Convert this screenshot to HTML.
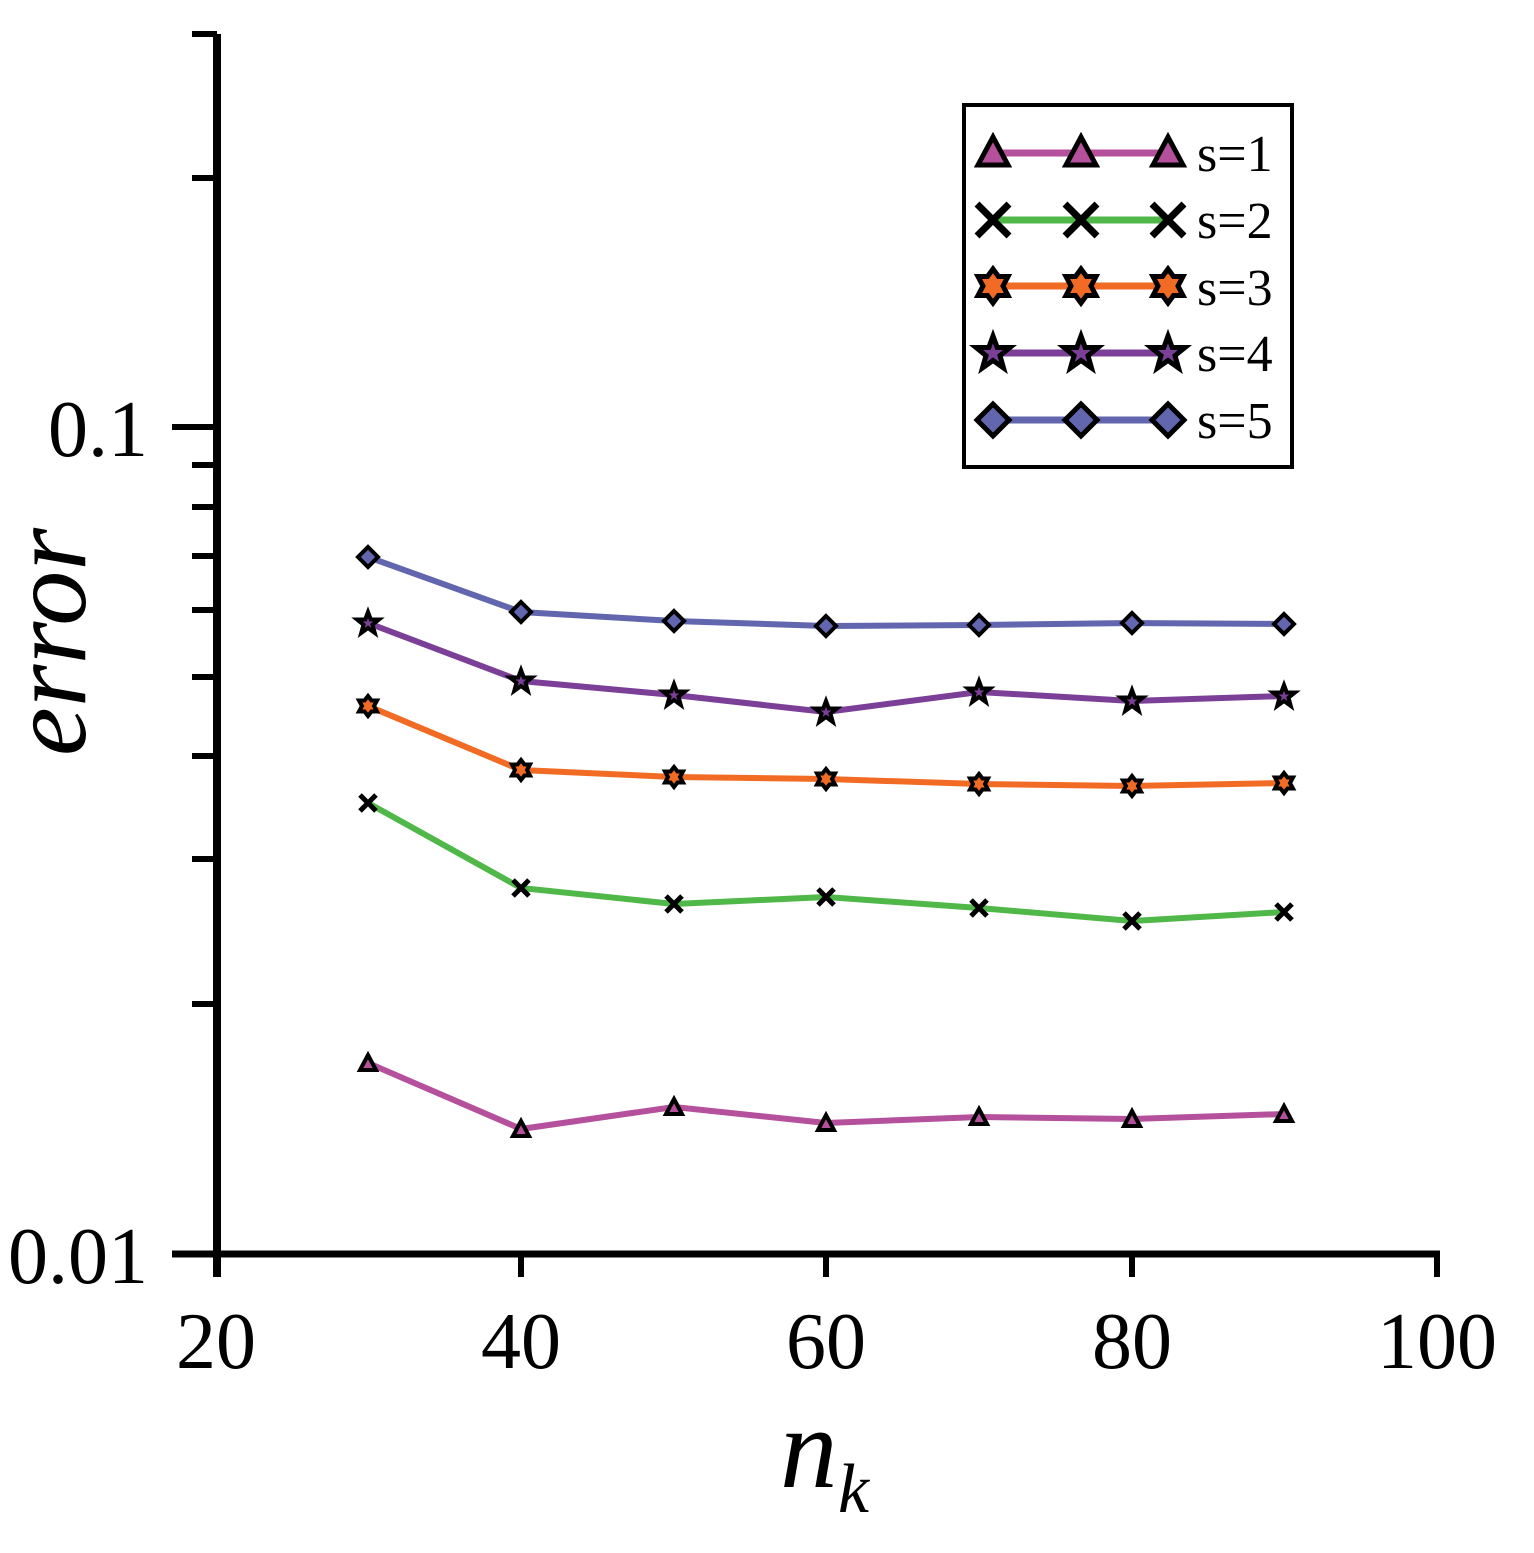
<!DOCTYPE html>
<html><head><meta charset="utf-8"><style>
body{margin:0;background:#fff}
svg{display:block}
text{font-family:"Liberation Serif","Times New Roman",serif;fill:#000}
</style></head><body>
<svg width="1534" height="1553" viewBox="0 0 1534 1553">
<defs>
<g id="tri"><polygon points="0,-8 8,7 -8,7" stroke="#000" stroke-width="4" fill="#b5509c"/></g>
<g id="x"><path d="M-8,-8L8,8M-8,8L8,-8" stroke="#000" stroke-width="5"/></g>
<g id="hex"><polygon points="0,-10 3.5,-5.5 9,-5.5 6,0 9,5.5 3.5,5.5 0,10 -3.5,5.5 -9,5.5 -6,0 -9,-5.5 -3.5,-5.5" stroke="#000" stroke-width="4" fill="#f26b24"/></g>
<g id="star"><polygon points="0,-11 2.8,-3.5 11,-3.5 4.5,1.7 6.8,10 0,5 -6.8,10 -4.5,1.7 -11,-3.5 -2.8,-3.5" stroke="#000" stroke-width="4" fill="#7b3f98"/></g>
<g id="dia"><polygon points="0,-10 10,0 0,10 -10,0" stroke="#000" stroke-width="4" fill="#6166ae"/></g>
<g id="triL"><polygon points="0,-15 15,13 -15,13" stroke="#000" stroke-width="5" fill="#b5509c"/></g>
<g id="xL"><path d="M-16,-16L16,16M-16,16L16,-16" stroke="#000" stroke-width="7"/></g>
<g id="hexL"><polygon points="0,-17 5.5,-9.5 15,-9.5 10,0 15,9.5 5.5,9.5 0,17 -5.5,9.5 -15,9.5 -10,0 -15,-9.5 -5.5,-9.5" stroke="#000" stroke-width="5" fill="#f26b24"/></g>
<g id="starL"><polygon points="0,-17 4.2,-5.5 17,-5.5 7,2.6 10.5,15 0,7.5 -10.5,15 -7,2.6 -17,-5.5 -4.2,-5.5" stroke="#000" stroke-width="5" fill="#7b3f98"/></g>
<g id="diaL"><polygon points="0,-16 16,0 0,16 -16,0" stroke="#000" stroke-width="5" fill="#6166ae"/></g>
</defs>
<line x1="217" y1="34" x2="217" y2="1277" stroke="#000" stroke-width="8"/>
<line x1="172" y1="1254" x2="1440" y2="1254" stroke="#000" stroke-width="7"/>
<g stroke="#000" stroke-width="6">
<line x1="172" y1="427" x2="217" y2="427"/>
<line x1="192" y1="34" x2="217" y2="34"/>
<line x1="192" y1="178" x2="217" y2="178"/>
<line x1="192" y1="465" x2="217" y2="465"/>
<line x1="192" y1="507" x2="217" y2="507"/>
<line x1="192" y1="556" x2="217" y2="556"/>
<line x1="192" y1="610" x2="217" y2="610"/>
<line x1="192" y1="677" x2="217" y2="677"/>
<line x1="192" y1="756" x2="217" y2="756"/>
<line x1="192" y1="859" x2="217" y2="859"/>
<line x1="192" y1="1004" x2="217" y2="1004"/>
<line x1="521" y1="1254" x2="521" y2="1277"/>
<line x1="826" y1="1254" x2="826" y2="1277"/>
<line x1="1132" y1="1254" x2="1132" y2="1277"/>
<line x1="1437" y1="1254" x2="1437" y2="1277"/>
</g>
<g font-size="80" text-anchor="end">
<text x="148" y="456">0.1</text>
<text x="148" y="1283">0.01</text>
</g>
<g font-size="80" text-anchor="middle">
<text x="216" y="1368">20</text>
<text x="521" y="1368">40</text>
<text x="826" y="1368">60</text>
<text x="1132" y="1368">80</text>
<text x="1437" y="1368">100</text>
</g>
<text x="0" y="0" font-size="110" font-style="italic" text-anchor="middle" transform="translate(85,642) rotate(-90)">error</text>
<text x="780" y="1487" font-size="115" font-style="italic">n</text>
<text x="838" y="1512" font-size="70" font-style="italic">k</text>
<g fill="none" stroke-width="6">
<polyline stroke="#6166ae" points="368,557 521,612 674,621 826,626 979,625 1132,623 1284,624"/>
<polyline stroke="#7b3f98" points="368,623 521,681 674,695 826,712 979,692 1132,701 1284,696"/>
<polyline stroke="#f26b24" points="368,706 521,770 674,777 826,779 979,784 1132,786 1284,783"/>
<polyline stroke="#4fb848" points="368,803 521,888 674,904 826,897 979,908 1132,921 1284,912"/>
<polyline stroke="#b5509c" points="368,1063 521,1129 674,1107 826,1123 979,1117 1132,1119 1284,1114"/>
</g>
<g>
<use href="#dia" x="368" y="557"/><use href="#dia" x="521" y="612"/><use href="#dia" x="674" y="621"/><use href="#dia" x="826" y="626"/><use href="#dia" x="979" y="625"/><use href="#dia" x="1132" y="623"/><use href="#dia" x="1284" y="624"/>
<use href="#star" x="368" y="623"/><use href="#star" x="521" y="681"/><use href="#star" x="674" y="695"/><use href="#star" x="826" y="712"/><use href="#star" x="979" y="692"/><use href="#star" x="1132" y="701"/><use href="#star" x="1284" y="696"/>
<use href="#hex" x="368" y="706"/><use href="#hex" x="521" y="770"/><use href="#hex" x="674" y="777"/><use href="#hex" x="826" y="779"/><use href="#hex" x="979" y="784"/><use href="#hex" x="1132" y="786"/><use href="#hex" x="1284" y="783"/>
<use href="#x" x="368" y="803"/><use href="#x" x="521" y="888"/><use href="#x" x="674" y="904"/><use href="#x" x="826" y="897"/><use href="#x" x="979" y="908"/><use href="#x" x="1132" y="921"/><use href="#x" x="1284" y="912"/>
<use href="#tri" x="368" y="1063"/><use href="#tri" x="521" y="1129"/><use href="#tri" x="674" y="1107"/><use href="#tri" x="826" y="1123"/><use href="#tri" x="979" y="1117"/><use href="#tri" x="1132" y="1119"/><use href="#tri" x="1284" y="1114"/>
</g>
<rect x="964" y="105" width="328" height="362" fill="#fff" stroke="#000" stroke-width="4"/>
<g stroke-width="7">
<line x1="993" y1="153" x2="1168" y2="153" stroke="#b5509c"/>
<line x1="993" y1="220" x2="1168" y2="220" stroke="#4fb848"/>
<line x1="993" y1="286" x2="1168" y2="286" stroke="#f26b24"/>
<line x1="993" y1="353" x2="1168" y2="353" stroke="#7b3f98"/>
<line x1="993" y1="420" x2="1168" y2="420" stroke="#6166ae"/>
</g>
<use href="#triL" x="993" y="152"/><use href="#triL" x="1081" y="152"/><use href="#triL" x="1168" y="152"/>
<use href="#xL" x="993" y="220"/><use href="#xL" x="1081" y="220"/><use href="#xL" x="1168" y="220"/>
<use href="#hexL" x="993" y="286"/><use href="#hexL" x="1081" y="286"/><use href="#hexL" x="1168" y="286"/>
<use href="#starL" x="993" y="353"/><use href="#starL" x="1081" y="353"/><use href="#starL" x="1168" y="353"/>
<use href="#diaL" x="993" y="420"/><use href="#diaL" x="1081" y="420"/><use href="#diaL" x="1168" y="420"/>
<g font-size="52">
<text x="1197" y="171">s=1</text>
<text x="1197" y="238">s=2</text>
<text x="1197" y="305">s=3</text>
<text x="1197" y="371">s=4</text>
<text x="1197" y="438">s=5</text>
</g>
</svg>
</body></html>
